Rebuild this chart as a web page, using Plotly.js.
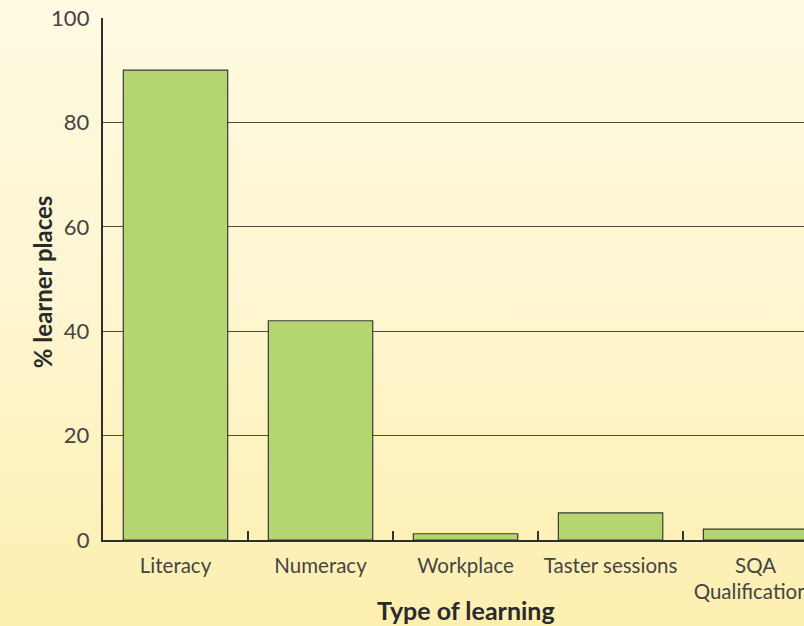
<!DOCTYPE html>
<html>
<head>
<meta charset="utf-8">
<script src="https://cdn.plot.ly/plotly-3.0.1.min.js"></script>
<style>
  html, body { margin:0; padding:0; }
  body { width:804px; height:626px; overflow:hidden;
    background: linear-gradient(to bottom, #fffae2 0%, #fef6d2 45%, #fdefb0 100%); }
  #chart { width:804px; height:626px; }
</style>
</head>
<body>
<div id="chart"></div>
<script>
const categories = ["Literacy", "Numeracy", "Workplace", "Taster sessions", "SQA<br>Qualifications"];
const learnerPlaces = [90, 42, 1.2, 5.2, 2.1];
const yTicks = [0, 20, 40, 60, 80, 100];

const trace = {
  type: "bar",
  x: categories,
  y: learnerPlaces,
  marker: { color: "#b4d56f", line: { color: "#3a3a3a", width: 1.2 } },
  hoverinfo: "skip"
};

const layout = {
  width: 804, height: 626,
  margin: { l: 103, r: 0, t: 18, b: 86 },
  paper_bgcolor: "rgba(0,0,0,0)",
  plot_bgcolor: "rgba(0,0,0,0)",
  bargap: 0.28,
  showlegend: false,
  font: { family: "Lato, 'Open Sans', sans-serif", color: "#3a3a3a" },
  xaxis: {
    type: "category",
    range: [-0.5, 4.334],
    tickson: "boundaries",
    ticks: "inside",
    ticklen: 9,
    tickwidth: 1.2,
    tickcolor: "#333",
    showline: true,
    linecolor: "#2e2e2e",
    linewidth: 2.2,
    showgrid: false,
    ticklabelstandoff: 6,
    tickfont: { size: 20.5, color: "#444444" },
    fixedrange: true
  },
  yaxis: {
    range: [0, 100],
    tickvals: yTicks,
    ticktext: yTicks.map(String),
    showline: true,
    linecolor: "#2e2e2e",
    linewidth: 2.2,
    showgrid: true,
    gridcolor: "#4a4a4a",
    gridwidth: 1.3,
    zeroline: false,
    ticks: "outside",
    ticklen: 7,
    tickcolor: "rgba(0,0,0,0)",
    tickfont: { size: 22, color: "#444444" },
    fixedrange: true
  },
  annotations: [{
    text: "<b>Type of learning</b>",
    xref: "x", x: 2,
    yref: "paper", y: -0.135,
    xanchor: "center", yanchor: "middle",
    showarrow: false,
    font: { size: 25, color: "#2a2a2a" }
  }, {
    text: "<b>% learner places</b>",
    xref: "paper", x: -0.087,
    yref: "paper", y: 0.494,
    xanchor: "center", yanchor: "middle",
    textangle: -90,
    showarrow: false,
    font: { size: 24, color: "#2a2a2a" }
  }]
};

Plotly.newPlot("chart", [trace], layout, { displayModeBar: false, staticPlot: true });
</script>
</body>
</html>
